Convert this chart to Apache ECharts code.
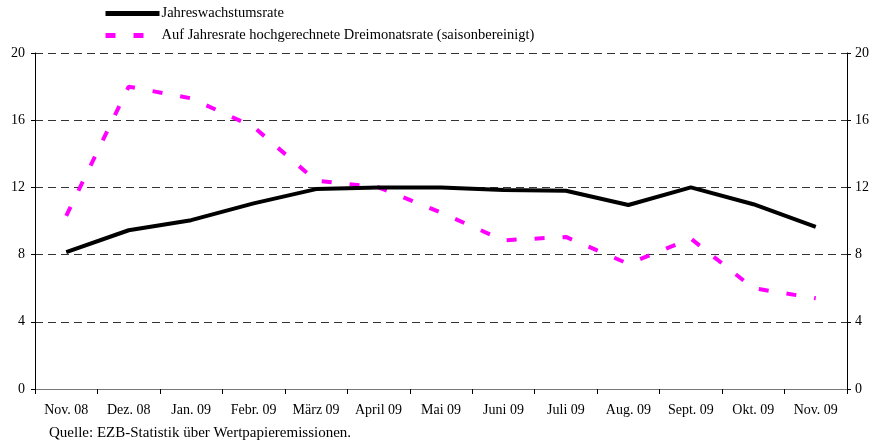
<!DOCTYPE html>
<html><head><meta charset="utf-8">
<script src="https://cdn.jsdelivr.net/npm/echarts@6/dist/echarts.min.js"></script>
<style>html,body{margin:0;padding:0;background:#fff;}#c{width:874px;height:446px;}</style>
</head><body><div id="c"></div>
<script>
var categories = ['Nov. 08','Dez. 08','Jan. 09','Febr. 09','März 09','April 09','Mai 09','Juni 09','Juli 09','Aug. 09','Sept. 09','Okt. 09','Nov. 09'];
var jahresrate = [8.15, 9.45, 10.05, 11.05, 11.9, 12.0, 12.0, 11.85, 11.8, 10.95, 12.0, 11.0, 9.65];
var dreimonatsrate = [10.3, 18.0, 17.3, 15.6, 12.4, 12.0, 10.5, 8.85, 9.05, 7.45, 8.95, 6.0, 5.4];
var seriesNames = ['Jahreswachstumsrate', 'Auf Jahresrate hochgerechnete Dreimonatsrate (saisonbereinigt)'];
var sourceNote = 'Quelle: EZB-Statistik über Wertpapieremissionen.';

var font = 'Liberation Serif, Times New Roman, serif';
var chart = echarts.init(document.getElementById('c'));
chart.setOption({
  animation: false,
  textStyle: {fontFamily: font, color: '#000'},
  grid: {left: 35, right: 27, top: 53, bottom: 57},
  legend: {
    orient: 'vertical', left: 103, top: 6, padding: 0, itemWidth: 54, itemHeight: 14, itemGap: 7,
    itemStyle: {opacity: 0},
    lineStyle: {width: 5},
    textStyle: {fontFamily: font, fontSize: 14.5, color: '#000', padding: [0,0,0,-3]},
    data: seriesNames
  },
  xAxis: [{
    type: 'category', data: categories, boundaryGap: true,
    axisLine: {lineStyle: {color: '#000', width: 1}},
    axisTick: {show: true, length: 5, lineStyle: {color: '#000'}},
    axisLabel: {fontFamily: font, fontSize: 14, color: '#000', margin: 14, interval: 0}
  }, {
    type: 'category', position: 'top', data: categories,
    axisLine: {show: true, lineStyle: {color: '#777', width: 1}},
    axisTick: {show: false}, axisLabel: {show: false}
  }],
  yAxis: [{
    type: 'value', min: 0, max: 20, interval: 4, position: 'left',
    axisLine: {show: true, lineStyle: {color: '#000'}},
    axisTick: {show: true, length: 4, lineStyle: {color: '#000'}},
    axisLabel: {fontFamily: font, fontSize: 14, color: '#000', margin: 10},
    splitLine: {show: true, lineStyle: {color: '#333', type: [8, 5], width: 1}}
  }, {
    type: 'value', min: 0, max: 20, interval: 4, position: 'right',
    axisLine: {show: true, lineStyle: {color: '#000'}},
    axisTick: {show: true, length: 4, lineStyle: {color: '#000'}},
    axisLabel: {fontFamily: font, fontSize: 14, color: '#000', margin: 8},
    splitLine: {show: false}
  }],
  series: [{
    name: seriesNames[0], type: 'line', data: jahresrate, symbol: 'none',
    lineStyle: {color: '#000', width: 4}, itemStyle: {color: '#000'}, z: 3
  }, {
    name: seriesNames[1], type: 'line', data: dreimonatsrate, symbol: 'none',
    lineStyle: {color: '#ff00ff', width: 4, type: [10, 18], cap: 'butt'}, itemStyle: {color: '#ff00ff'}, z: 2
  }],
  graphic: [{
    type: 'text', left: 49, top: 426,
    style: {text: sourceNote, font: '15px ' + font, fill: '#000'}
  }]
});
</script></body></html>
